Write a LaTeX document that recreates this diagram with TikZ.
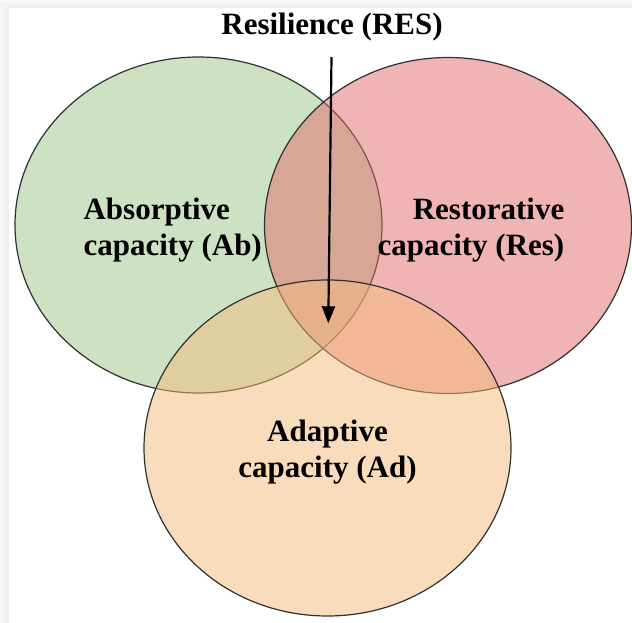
\documentclass[tikz,border=0pt]{standalone}
\usepackage{fontspec}
\setmainfont{Liberation Serif}
\usetikzlibrary{arrows.meta,shapes.geometric}
\definecolor{absgreen}{HTML}{9BC789}
\definecolor{respink}{HTML}{E36B6D}
\definecolor{adaorange}{HTML}{F5BB7B}
\definecolor{rimgray}{HTML}{303030}
\begin{document}
\begin{tikzpicture}[x=1pt,y=-1pt,
  capset/.style={ellipse, minimum width=367pt, minimum height=336pt, inner sep=0pt,
    draw=rimgray, line width=1.2pt, fill opacity=0.5},
  caplabel/.style={font=\fontsize{31}{36}\selectfont\bfseries, inner sep=0pt},
  resarrow/.style={line width=2.2pt, -{Triangle[length=17pt,width=13pt]}}]
\useasboundingbox (0,0) rectangle (632,623);
% page and frame edges
\fill[white] (0,0) rectangle (632,623);
\shade[top color=gray!5, bottom color=gray!15] (0,0) rectangle (632,8);
\shade[left color=gray!5, right color=gray!15] (0,8) rectangle (8.5,623);
% the three capacities
\node[capset, fill=absgreen] (ab) at (198.5,225) {};
\node[capset, fill=respink] (res) at (448,225.5) {};
\node[capset, fill=adaorange] (ad) at (327.5,448) {};
% labels (base anchor of a two-line node sits on its last line)
\node[caplabel, anchor=base] (title) at (332,35) {Resilience (RES)};
\node[caplabel, anchor=base west, align=left] (ablabel) at (83.4,255) {Absorptive\\capacity (Ab)};
\node[caplabel, anchor=base east, align=right] (reslabel) at (564.5,255) {Restorative\\capacity (Res)};
\node[caplabel, anchor=base, align=center] (adlabel) at (327.5,477) {Adaptive\\capacity (Ad)};
% resilience lies in the common core
\coordinate (arrowtop) at (331.5,57);
\coordinate (arrowtip) at (328.3,323.3);
\draw[resarrow] (arrowtop) -- (arrowtip);
\end{tikzpicture}
\end{document}
